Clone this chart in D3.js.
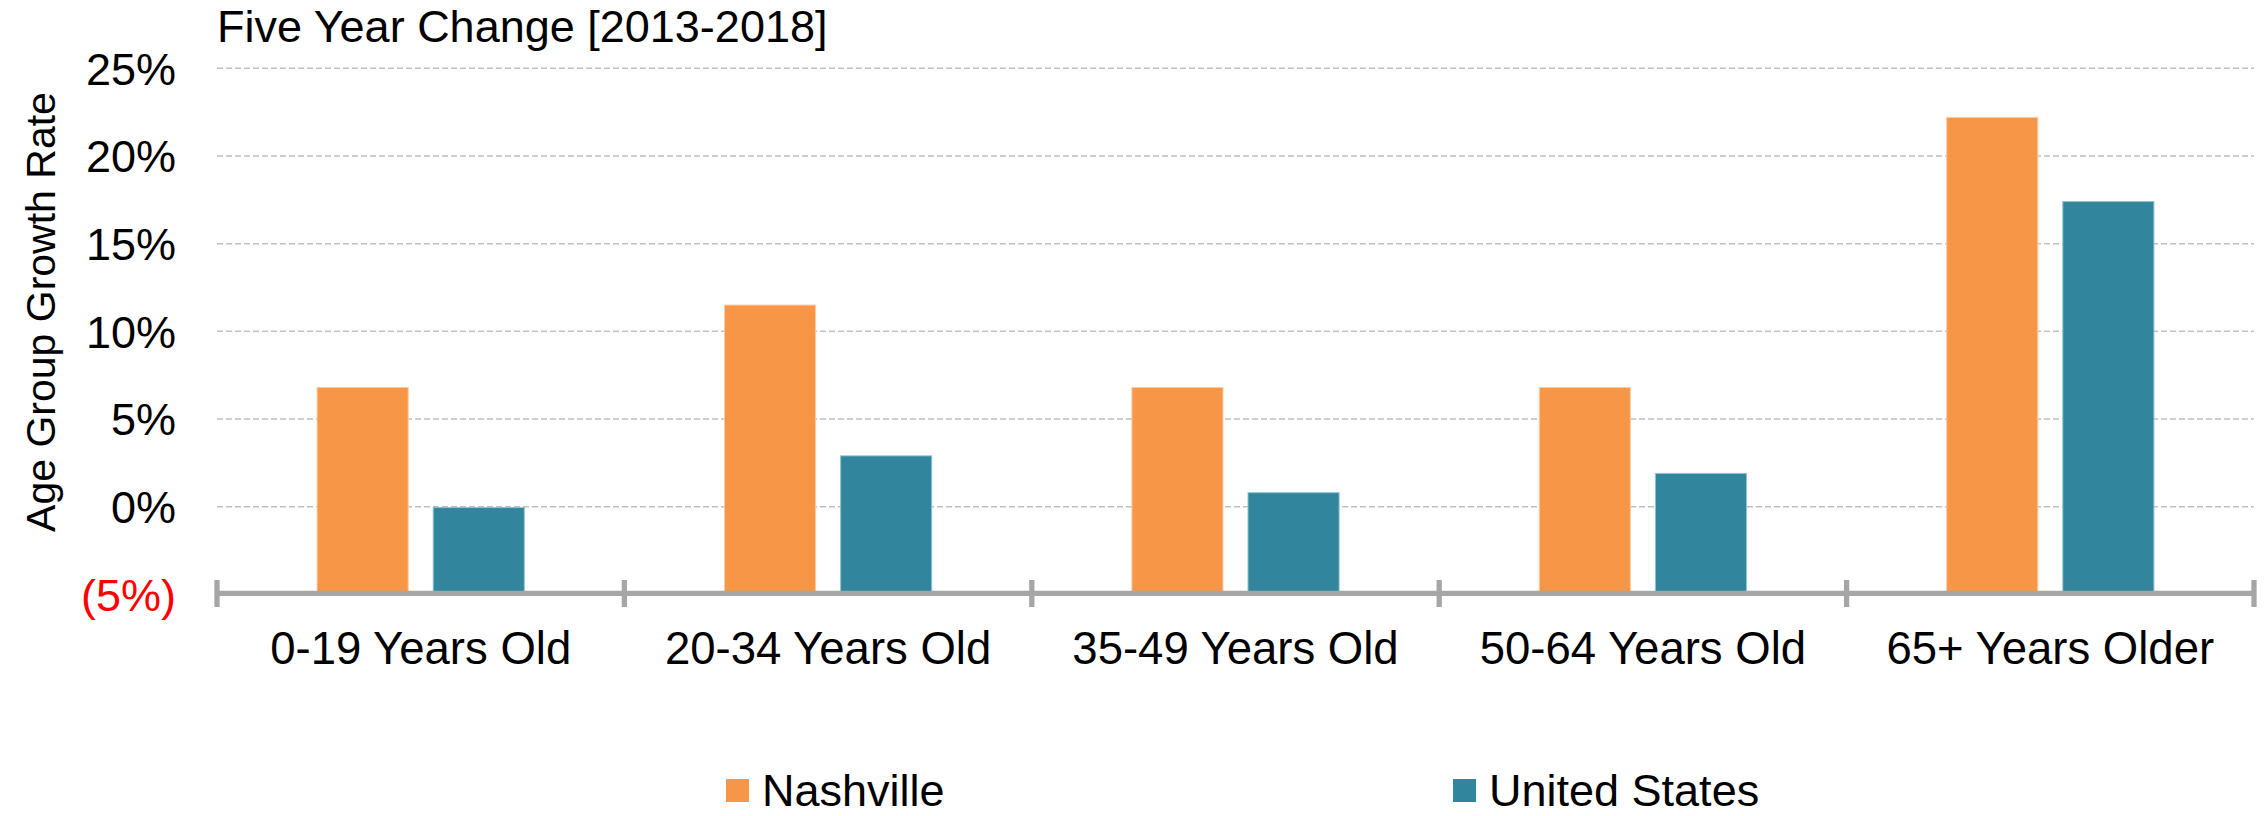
<!DOCTYPE html>
<html>
<head>
<meta charset="utf-8">
<script src="https://cdn.jsdelivr.net/npm/d3@7"></script>
<style>
  html, body { margin: 0; padding: 0; background: #fff; }
  svg { display: block; font-family: "Liberation Sans", Arial, sans-serif; }
</style>
</head>
<body>
<svg id="chart" width="2267" height="816"></svg>
<script>
// ---- data ----
const categories = ["0-19 Years Old", "20-34 Years Old", "35-49 Years Old", "50-64 Years Old", "65+ Years Older"];
const seriesNames = ["Nashville", "United States"];
const nashville = [6.8, 11.5, 6.8, 6.8, 22.2];
const unitedStates = [-0.05, 2.9, 0.8, 1.9, 17.4];
const yTicks = [-5, 0, 5, 10, 15, 20, 25];
const titleText = "Five Year Change [2013-2018]";
const yAxisTitle = "Age Group Growth Rate";
const colors = ["#F79646", "#31859C"];
const strokeColors = ["#FBCBA3", "#8FC3D1"];

(function () {
// ---- layout ----
const svg = d3.select("#chart");
const plotLeft = 217, plotRight = 2254, plotTop = 68.3, plotBottom = 594.4;

const x = d3.scaleBand().domain(categories).range([plotLeft, plotRight]).paddingInner(0).paddingOuter(0);
const xs = d3.scaleBand().domain(seriesNames).range([0, x.bandwidth()])
  .paddingInner(0.2155).paddingOuter(0.862);
const y = d3.scaleLinear().domain([-5, 25]).range([plotBottom, plotTop]);

const fmt = v => v < 0 ? "(" + Math.abs(v) + "%)" : v + "%";

// gridlines
svg.append("g").selectAll("line").data(yTicks.filter(t => t > -5)).join("line")
  .attr("x1", plotLeft).attr("x2", plotRight)
  .attr("y1", d => y(d)).attr("y2", d => y(d))
  .attr("stroke", "#BFBFBF").attr("stroke-width", 1.5).attr("stroke-dasharray", "6,3");

// bars
const data = [];
categories.forEach((c, i) => {
  data.push({ cat: c, s: seriesNames[0], v: nashville[i], k: 0 });
  data.push({ cat: c, s: seriesNames[1], v: unitedStates[i], k: 1 });
});
svg.append("g").selectAll("rect").data(data).join("rect")
  .attr("x", d => x(d.cat) + xs(d.s))
  .attr("width", xs.bandwidth())
  .attr("y", d => y(d.v))
  .attr("height", d => y(-5) - y(d.v))
  .attr("fill", d => colors[d.k])
  .attr("stroke", d => strokeColors[d.k]).attr("stroke-width", 1);

// x axis line and ticks
const axisG = svg.append("g");
const axisY = y(-5) - 1.1;
axisG.append("line").attr("x1", plotLeft).attr("x2", plotRight).attr("y1", axisY).attr("y2", axisY)
  .attr("stroke", "#A6A6A6").attr("stroke-width", 5.3);
const boundaries = categories.map(c => x(c)).concat([plotRight]);
axisG.selectAll("line.tk").data(boundaries).join("line").attr("class", "tk")
  .attr("x1", d => d).attr("x2", d => d).attr("y1", axisY - 13.3).attr("y2", axisY + 13.7)
  .attr("stroke", "#A6A6A6").attr("stroke-width", 5.3);

// x labels
svg.append("g").selectAll("text").data(categories).join("text")
  .attr("x", d => x(d) + x.bandwidth() / 2).attr("y", 664)
  .attr("text-anchor", "middle").attr("font-size", 45.5).attr("fill", "#000")
  .text(d => d);

// y tick labels
svg.append("g").selectAll("text").data(yTicks).join("text")
  .attr("x", 176).attr("y", d => y(d)).attr("dy", "0.36em")
  .attr("text-anchor", "end").attr("font-size", 45)
  .attr("fill", d => d < 0 ? "#FF0000" : "#000")
  .text(fmt);

// y axis title
svg.append("text").attr("transform", "translate(55,312) rotate(-90)")
  .attr("text-anchor", "middle").attr("font-size", 41).attr("fill", "#000")
  .text(yAxisTitle);

// chart title
svg.append("text").attr("x", 217).attr("y", 42).attr("font-size", 45).attr("fill", "#000")
  .text(titleText);

// legend
const legendX = [726, 1453];
const lg = svg.append("g").selectAll("g").data(seriesNames).join("g")
  .attr("transform", (d, i) => `translate(${legendX[i]},0)`);
lg.append("rect").attr("x", 0).attr("y", 779).attr("width", 23).attr("height", 23)
  .attr("fill", (d, i) => colors[i]);
lg.append("text").attr("x", 36).attr("y", 806).attr("font-size", 45).attr("fill", "#000")
  .text(d => d);
})();
</script>
</body>
</html>
